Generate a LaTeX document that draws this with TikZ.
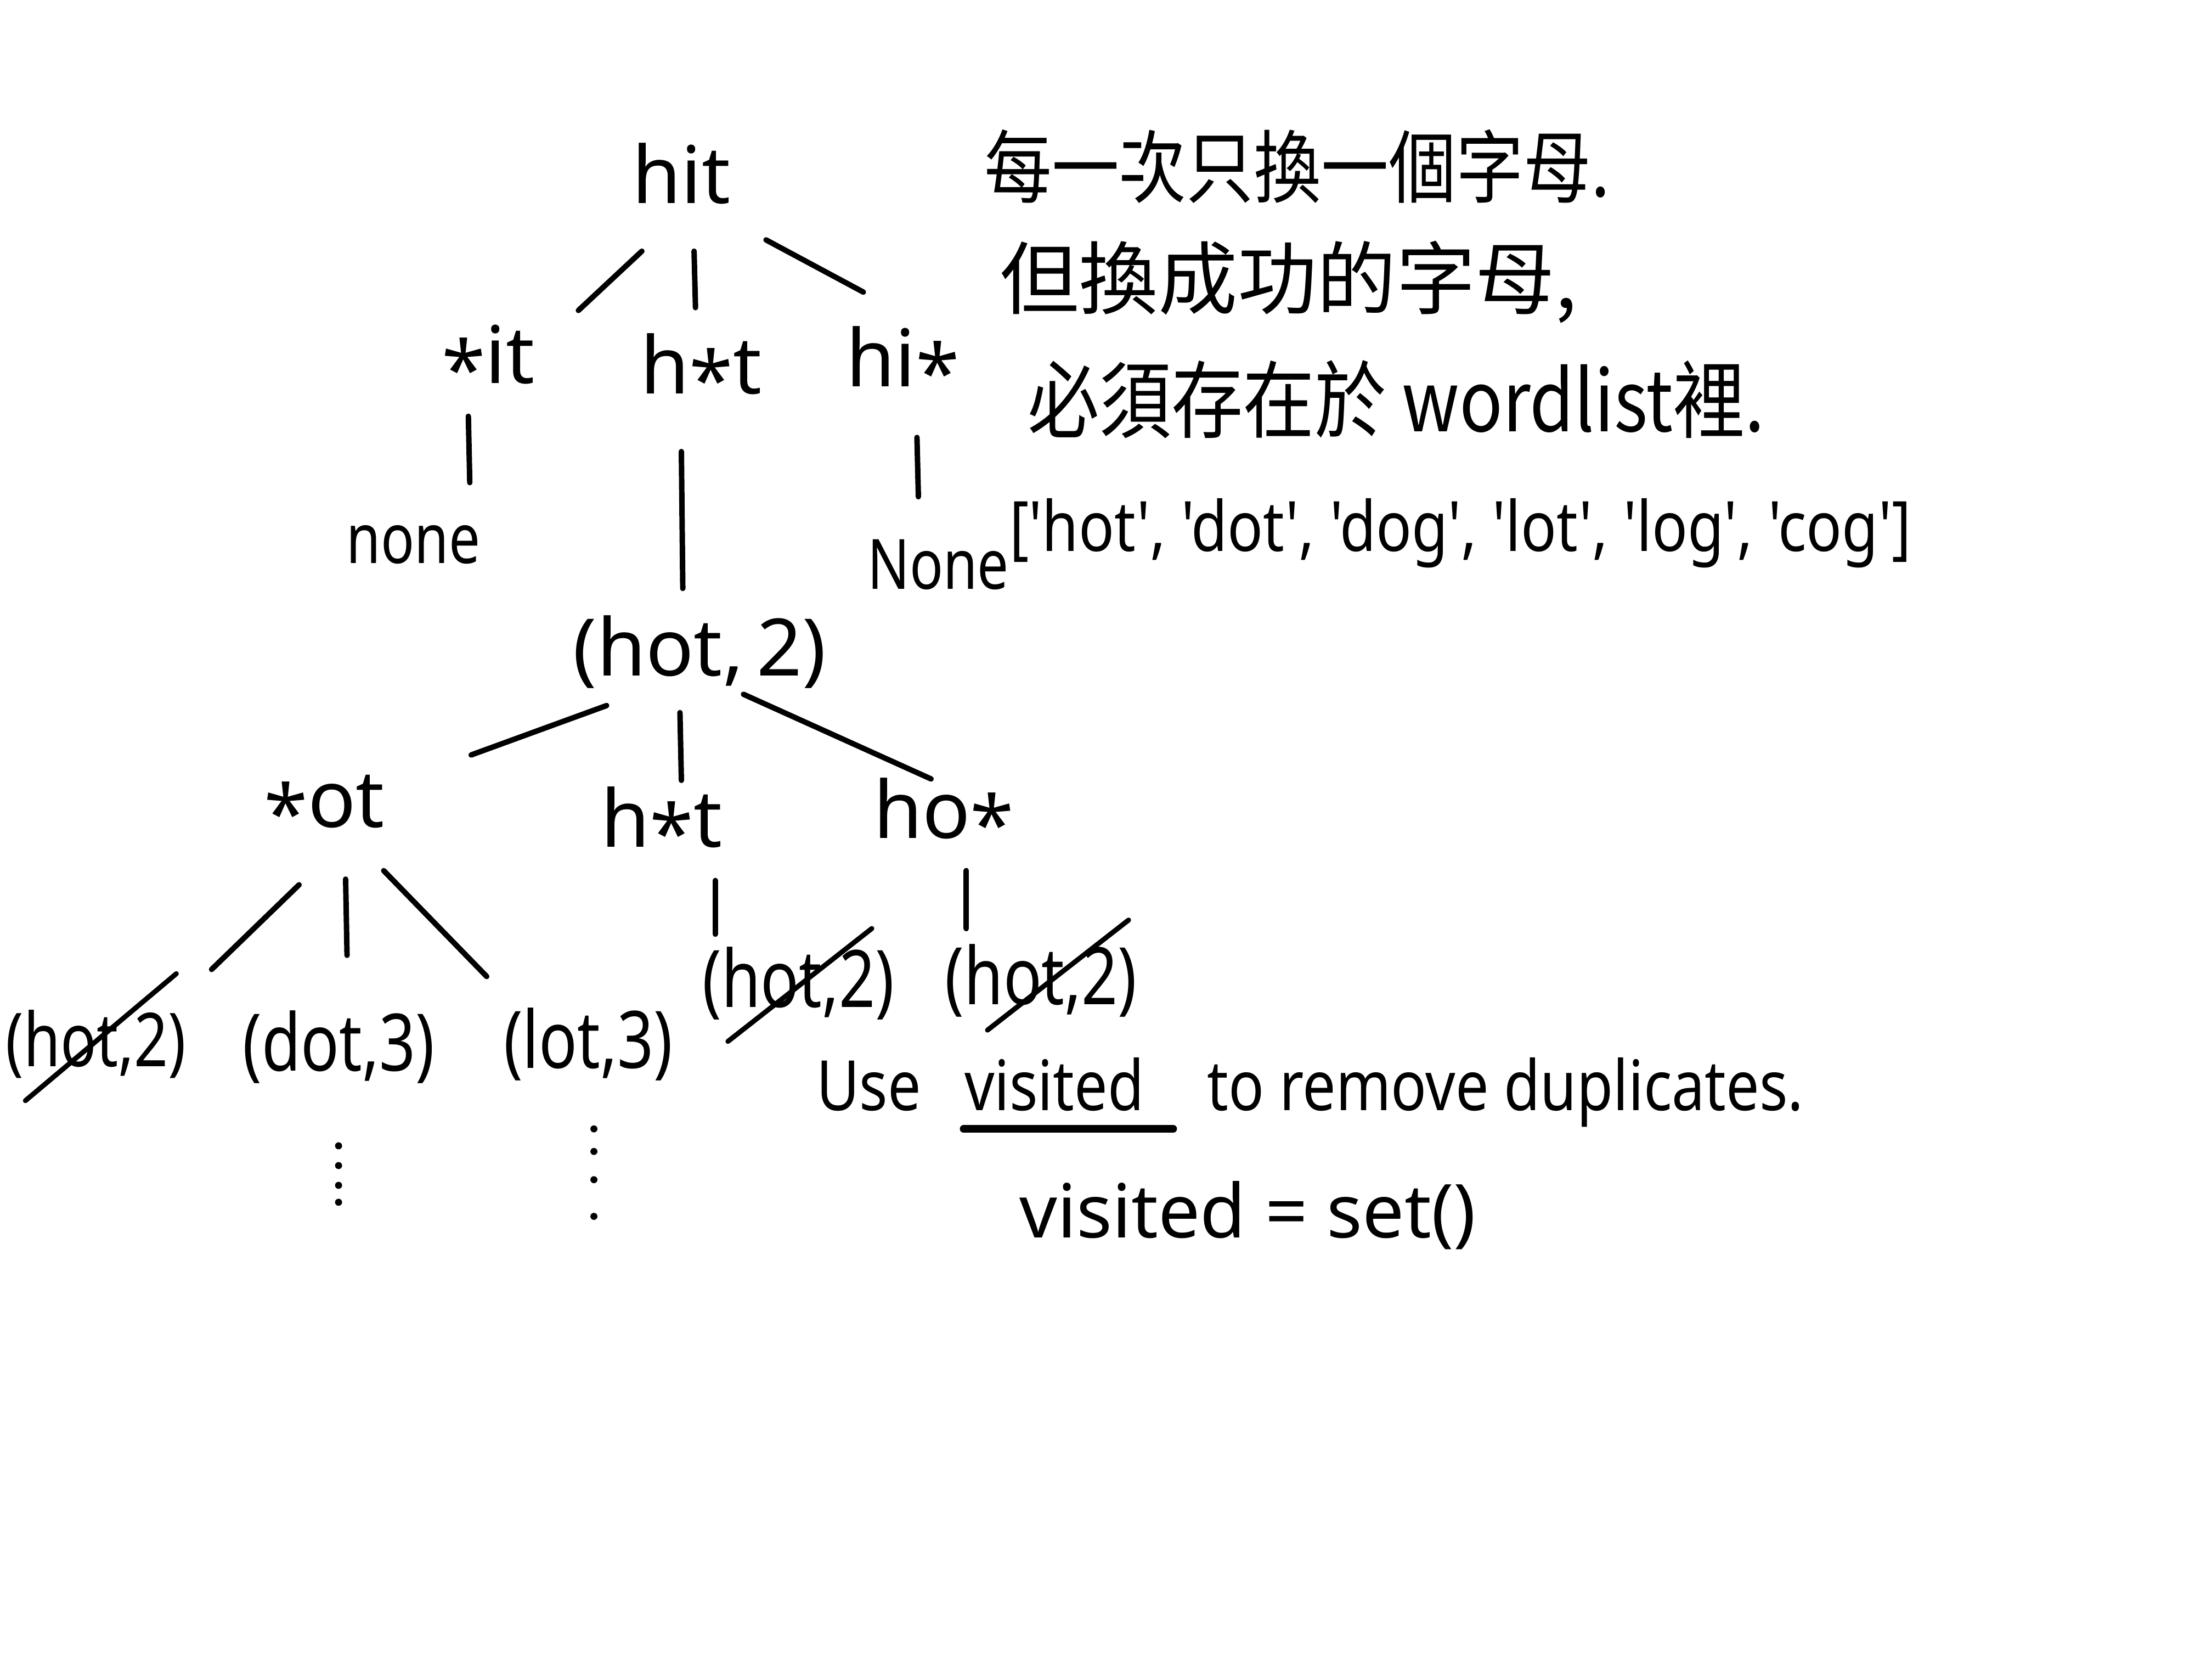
\documentclass[tikz,border=0pt]{standalone}
\usepackage{fontspec}
\setmainfont{Noto Sans}
\newfontfamily\narrow{Noto Sans}[FakeStretch=0.8]
\newfontfamily\notefont{Noto Sans}[FakeStretch=0.85]
\newfontfamily\plainfont{Noto Sans}[Ligatures=TeXOff,FakeStretch=0.85]
\newfontfamily\cjk{Noto Sans CJK TC}
\newfontfamily\cjknarrow{Noto Sans CJK TC}[FakeStretch=0.85]
\usetikzlibrary{calc}
\newcommand\wild{\raisebox{-0.35ex}{*}}
\begin{document}
\begin{tikzpicture}[x=0.1mm,y=-0.1mm,
  lbl/.style={font=\fontsize{16}{19}\selectfont, inner sep=0pt},
  leaf/.style={font=\narrow\fontsize{16}{19}\selectfont, inner sep=0pt},
  small/.style={font=\narrow\fontsize{14}{17}\selectfont, inner sep=0pt},
  conn/.style={line width=1.1pt, line cap=round},
  strike/.style={line width=1pt, line cap=round},
  note/.style={font=\notefont\fontsize{14}{17}\selectfont, inner sep=0pt, anchor=base west},
  cjkline/.style={inner sep=0pt, anchor=west},
  dotmark/.style={fill=black}]
\fill[white] (0,0) rectangle (1568,1176);
\useasboundingbox (0,0) rectangle (1568,1176);

% tree nodes
\node[lbl] (hit) at (483,123) {hit};
\node[lbl] (sit) at (346,256) {\wild it};
\node[lbl] (hst) at (497,263) {h\wild t};
\node[lbl] (hia) at (640,258) {hi\wild};
\node[small] (none1) at (293,386) {none};
\node[lbl] (hot2) at (496,462) {(hot,\,2)};
\node[small] (none2) at (665,400) {None};
\node[lbl] (sot) at (230,573) {\wild ot};
\node[lbl] (hst2) at (469,584) {h\wild t};
\node[lbl] (hoa) at (669,578) {ho\wild};
\node[leaf, font=\narrow\fontsize{15}{18}\selectfont] (x1) at (68,740) {(hot,2)};
\node[leaf] (dot) at (240,742) {(dot,3)};
\node[leaf] (lot) at (417,740) {(lot,3)};
\node[leaf] (x2) at (566,697) {(hot,2)};
\node[leaf] (x3) at (738,695) {(hot,2)};

% connectors
\draw[conn] ($(hit)+(-28,55)$) -- ($(sit)+(64,-36)$);
\draw[conn] ($(hit)+(9,55)$) -- ($(hst)+(-4,-45)$);
\draw[conn] ($(hit)+(60,47)$) -- ($(hia)+(-28,-51)$);
\draw[conn] ($(sit)+(-14,39)$) -- ($(none1)+(40,-44)$);
\draw[conn] ($(hst)+(-14,57)$) -- ($(hot2)+(-12,-45)$);
\draw[conn] ($(hia)+(10,52)$) -- ($(none2)+(-14,-48)$);
\draw[conn] ($(hot2)+(-66,38)$) -- ($(sot)+(104,-38)$);
\draw[conn] ($(hot2)+(-14,43)$) -- ($(hst2)+(14,-31)$);
\draw[conn] ($(hot2)+(31,30)$) -- ($(hoa)+(-9,-26)$);
\draw[conn] ($(sot)+(-18,54)$) -- ($(x1)+(82,-53)$);
\draw[conn] ($(sot)+(15,50)$) -- ($(dot)+(6,-65)$);
\draw[conn] ($(sot)+(42,44)$) -- ($(lot)+(-72,-48)$);
\draw[conn] ($(hst2)+(38,40)$) -- ($(x2)+(-59,-35)$);
\draw[conn] ($(hoa)+(16,39)$) -- ($(x3)+(-53,-37)$);

% strike-throughs
\draw[strike] ($(x1)+(-50,40)$) -- ($(x1)+(57,-50)$);
\draw[strike] ($(x2)+(-50,41)$) -- ($(x2)+(52,-39)$);
\draw[strike] ($(x3)+(-38,35)$) -- ($(x3)+(62,-43)$);

% continuation dots
\foreach \yy in {812,826,840,852} \fill[dotmark] (240,\yy) circle (2.5);
\foreach \yy in {800,816,836,862} \fill[dotmark] (421,\yy) circle (2.5);

% notes
\node[cjkline] (c1) at (697,118) {\cjknarrow\fontsize{16}{19}\selectfont 每一次只換一個字母.};
\node[cjkline] (c2) at (708,200) {\cjk\fontsize{16}{19}\selectfont 但換成功的字母,};
\node[cjkline] (c3) at (728,283) {\cjknarrow\fontsize{17}{20}\selectfont 必須存在於 wordlist裡.};
\node[cjkline] (wl) at (715,378) {\plainfont\fontsize{14}{17}\selectfont ['hot', 'dot', 'dog', 'lot', 'log', 'cog']};

\node[note] (use) at (578,787) {Use};
\node[note] (vis) at (683,787) {visited};
\node[note] (rest) at (855,787) {to remove duplicates.};
\draw[line width=1.5pt, line cap=round] ($(vis.base west)+(0,13)$) -- ($(vis.base east)+(20,13)$);
\node[note, font=\fontsize{15}{18}\selectfont] (vset) at (722,877) {visited = set()};
\end{tikzpicture}
\end{document}
